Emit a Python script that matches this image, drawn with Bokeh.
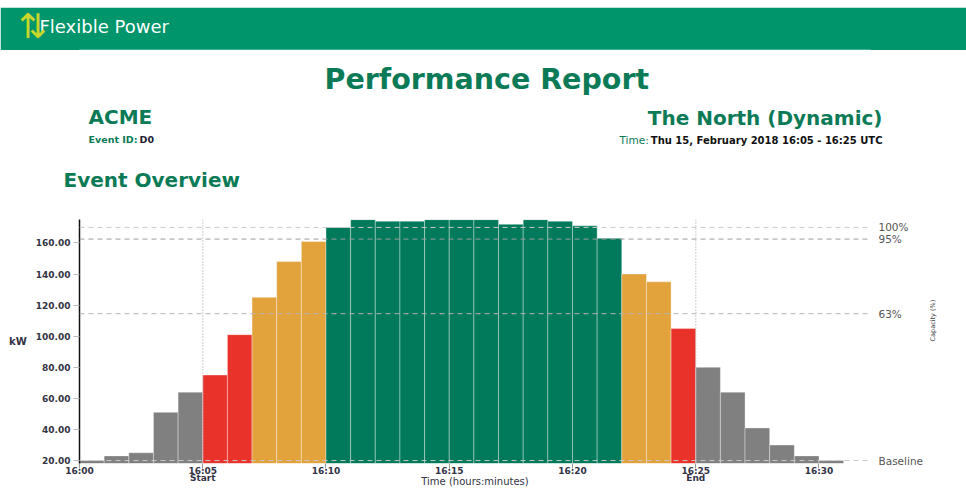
import math
from bokeh.plotting import figure
from bokeh.layouts import column
from bokeh.models import (Range1d, LinearAxis, FixedTicker, Span, ColumnDataSource,
                          NumeralTickFormatter, Title, Spacer)
from bokeh.embed import file_html
from bokeh.resources import INLINE

# ---------------- data ----------------
minutes = list(range(31))            # minutes after 16:00, one bar per minute
kw = [20, 23, 25, 51, 64, 75, 101, 125, 148, 161, 170, 175, 174, 174, 175, 175,
      175, 172, 175, 174, 171, 163, 140, 135, 105, 80, 64, 41, 30, 23, 20]
status = (["outside"] * 5 + ["low"] * 2 + ["partial"] * 3 + ["met"] * 12 +
          ["partial"] * 2 + ["low"] + ["outside"] * 6)
status_colors = {"outside": "#808080", "low": "#e8322a",
                 "partial": "#e2a23c", "met": "#007a5a"}
tick_minutes = [0, 5, 10, 15, 20, 25, 30]
tick_labels = ["16:00", "16:05\nStart", "16:10", "16:15", "16:20", "16:25\nEnd", "16:30"]
kw_ticks = [20, 40, 60, 80, 100, 120, 140, 160]
event_start = 5
event_end = 25
baseline = 20
capacity = 150
capacity_levels = [1.00, 0.95, 0.63]
capacity_labels = ["100%", "95%", "63%"]

GREEN_TXT = "#0b7a56"
HEADER = "#00956a"
W = 966
FX, FR = 79, 870          # frame left / right (page px)


def th(size):             # approximate text box height of a title
    return round(1.15 * size)


def stack_title(fig, text, size, color, x=None, align="left", panel=None, style="bold",
                font="DejaVu Sans"):
    """panel=None -> zero-height slot; otherwise a slot of `panel` px."""
    if panel is None:
        standoff = -(2 + th(size))
    else:
        standoff = panel - 2 - th(size)
    off = (x - FX) if align == "left" else (FR - x)
    fig.add_layout(Title(text=text, align=align, offset=off, standoff=int(standoff),
                         text_font=font, text_font_size=f"{size}px",
                         text_font_style=style, text_color=color), "above")


# ---------------- header band ----------------
h = figure(width=W, height=43, x_range=Range1d(0, 1), y_range=Range1d(0, 1),
           output_backend="svg", toolbar_location=None,
           x_axis_location=None, y_axis_location=None,
           min_border_left=FX, min_border_right=W - FR, min_border_top=42, min_border_bottom=0,
           background_fill_color=HEADER, border_fill_color=HEADER, outline_line_color=None)
h.grid.visible = False
stack_title(h, " ", 10, HEADER, x=FX, panel=25, style="normal")
stack_title(h, "Flexible Power", 18, "white", x=39, style="normal")
stack_title(h, "\u21c5", 34, "#c8d62c", x=18, style="normal")

# ---------------- main chart ----------------
y_start, y_end = 18.1, 175.1
p = figure(width=W, height=440, x_range=Range1d(0, 32.09), y_range=Range1d(y_start, y_end),
           output_backend="svg", toolbar_location=None,
           min_border_left=FX, min_border_right=W - FR, min_border_top=169,
           min_border_bottom=26,
           outline_line_color=None, background_fill_color="white", border_fill_color="white")
p.grid.visible = False

src = ColumnDataSource(dict(
    left=minutes,
    right=[m + 1 for m in minutes],
    top=kw,
    bottom=[y_start] * len(kw),
    color=[status_colors[s] for s in status],
))
p.quad(left="left", right="right", top="top", bottom="bottom", source=src,
       fill_color="color", line_color="white", line_alpha=0.35, line_width=1)

# reference lines
cap_vals = [baseline + c * capacity for c in capacity_levels]
for v, col in zip(cap_vals, ["#cccccc", "#9e9e9e", "#b5b5b5"]):
    p.add_layout(Span(location=v, dimension="width", line_color=col,
                      line_dash="5 4", line_width=1))
p.add_layout(Span(location=baseline, dimension="width", line_color="#c8c8c8",
                  line_dash="5 4", line_width=1))
for x in [event_start, event_end]:
    p.add_layout(Span(location=x, dimension="height", line_color="#bdbdbd",
                      line_dash="1 2", line_width=1.5))

# axes
xa = p.xaxis[0]
xa.ticker = FixedTicker(ticks=tick_minutes)
xa.major_label_overrides = {m: l for m, l in zip(tick_minutes, tick_labels)}
xa.axis_line_color = None
xa.major_tick_line_color = "#999999"
xa.major_tick_out = 5
xa.major_tick_in = 0
xa.minor_tick_line_color = None
xa.major_label_standoff = -3
xa.major_label_text_font = "DejaVu Sans"
xa.major_label_text_font_style = "bold"
xa.major_label_text_font_size = "9px"
xa.major_label_text_line_height = 0.75
xa.major_label_text_color = "#333344"
xa.axis_label = "Time (hours:minutes)"
xa.axis_label_standoff = -10
xa.axis_label_text_font = "DejaVu Sans"
xa.axis_label_text_font_style = "normal"
xa.axis_label_text_font_size = "10px"
xa.axis_label_text_color = "#333344"

ya = p.yaxis[0]
ya.ticker = FixedTicker(ticks=kw_ticks)
ya.formatter = NumeralTickFormatter(format="0.00")
ya.axis_line_color = "#111111"
ya.axis_line_width = 1.5
ya.major_tick_line_color = "#bbbbbb"
ya.major_tick_out = 6
ya.major_tick_in = 0
ya.minor_tick_line_color = None
ya.major_label_standoff = 3
ya.major_label_text_font = "DejaVu Sans"
ya.major_label_text_font_style = "bold"
ya.major_label_text_font_size = "9px"
ya.major_label_text_color = "#333344"
ya.axis_label = "kW"
ya.axis_label_orientation = "horizontal"
ya.axis_label_standoff = 6
ya.axis_label_text_font = "DejaVu Sans"
ya.axis_label_text_font_style = "bold"
ya.axis_label_text_font_size = "10px"
ya.axis_label_text_color = "#333344"

ra = LinearAxis(ticker=FixedTicker(ticks=[baseline] + cap_vals),
                major_label_overrides={**{baseline: "Baseline"},
                                       **{v: l for v, l in zip(cap_vals, capacity_labels)}},
                axis_line_color=None, major_tick_line_color=None, major_tick_out=0,
                major_tick_in=0, minor_tick_line_color=None, minor_tick_out=0,
                major_label_standoff=8,
                major_label_text_font="DejaVu Sans", major_label_text_font_size="10.5px",
                major_label_text_color="#555555",
                axis_label="Capacity (%)", axis_label_standoff=7,
                axis_label_text_font="DejaVu Sans", axis_label_text_font_style="normal",
                axis_label_text_font_size="6.5px", axis_label_text_color="#444444",
                axis_label_text_align="center")
try:
    ra.axis_label_orientation = math.pi / 2
except Exception:
    pass
p.add_layout(ra, "right")

# ---------------- report texts (stacked upward from the frame top) ----------------
stack_title(p, "Event Overview", 20, GREEN_TXT, x=63, panel=80)
stack_title(p, "Thu 15, February 2018 16:05 - 16:25 UTC", 10, "#111111", x=882,
            align="right")
stack_title(p, "Time:", 10.5, GREEN_TXT, x=619, style="normal")
stack_title(p, "D0", 9.5, "#222233", x=139)
stack_title(p, "Event ID:", 9.5, GREEN_TXT, x=88)
stack_title(p, " ", 10, "white", x=FX, panel=22, style="normal")
stack_title(p, "The North (Dynamic)", 20, GREEN_TXT, x=882, align="right")
stack_title(p, "ACME", 20, GREEN_TXT, x=88)
stack_title(p, " ", 10, "white", x=FX, panel=38, style="normal")
stack_title(p, "Performance Report", 28.5, GREEN_TXT, x=324)

layout = column(Spacer(width=W, height=7), h, p, spacing=0)
open("out.html", "w").write(file_html(layout, INLINE))
